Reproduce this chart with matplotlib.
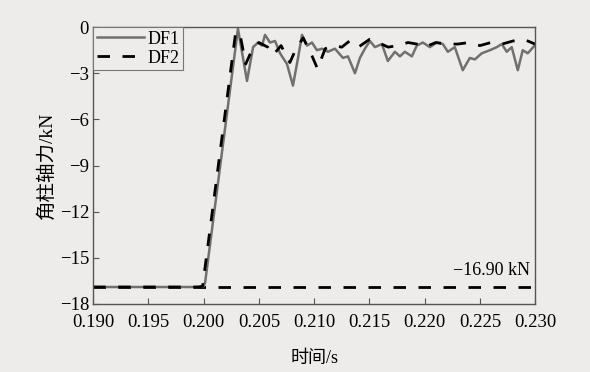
import matplotlib.pyplot as plt

plt.rcParams['font.family'] = ['Liberation Serif', 'Noto Sans CJK SC']
plt.rcParams['axes.unicode_minus'] = True

# DF1 (solid grey)
t1 = [0.1900, 0.1995, 0.2000, 0.20013, 0.2031, 0.20392, 0.20447, 0.20492, 0.20528,
      0.20555, 0.20600, 0.20646, 0.20691, 0.20754, 0.20808, 0.20854, 0.20890,
      0.20935, 0.20980, 0.21025, 0.21071, 0.21125, 0.21188, 0.21260, 0.21306,
      0.21369, 0.21414, 0.21459, 0.21505, 0.21550, 0.21613, 0.21667, 0.21731,
      0.21776, 0.21821, 0.21884, 0.21929, 0.21984, 0.22047, 0.22110, 0.22165,
      0.22210, 0.22273, 0.22345, 0.22409, 0.22454, 0.22517, 0.22590, 0.22653,
      0.22698, 0.22743, 0.22788, 0.22843, 0.22888, 0.22933, 0.22996]
f1 = [-16.9, -16.9, -16.85, -16.6, -0.1, -3.5, -1.3, -1.0, -1.2,
      -0.5, -1.0, -0.9, -1.7, -2.4, -3.8, -2.0, -0.5,
      -1.2, -1.0, -1.5, -1.4, -1.6, -1.4, -2.0, -1.9,
      -3.0, -2.0, -1.4, -0.9, -1.3, -1.1, -2.2, -1.6,
      -1.9, -1.6, -1.9, -1.2, -1.0, -1.3, -1.0, -1.1,
      -1.6, -1.3, -2.8, -2.0, -2.1, -1.7, -1.5, -1.3,
      -1.1, -1.6, -1.3, -2.8, -1.5, -1.7, -1.2]

# DF2 (black dashed)
t2 = [0.1900, 0.1995, 0.1999, 0.2029, 0.2033, 0.2038, 0.2043, 0.2050, 0.2058,
      0.2063, 0.2070, 0.2078, 0.2083, 0.2090, 0.2097, 0.2103, 0.2110, 0.2118,
      0.2125, 0.2132, 0.2140, 0.2150, 0.2158, 0.2167, 0.2175, 0.2185, 0.2193,
      0.2200, 0.2210, 0.2220, 0.2230, 0.2240, 0.2250, 0.2260, 0.2270, 0.2280,
      0.2290, 0.2300]
f2 = [-16.9, -16.9, -16.85, -0.3, -0.5, -2.4, -1.6, -1.0, -1.3,
      -1.8, -1.2, -2.3, -1.5, -0.7, -1.7, -2.7, -1.4, -1.2,
      -1.3, -0.9, -1.3, -0.8, -1.0, -1.3, -1.2, -1.0, -1.1,
      -1.3, -1.0, -1.1, -1.1, -1.0, -1.2, -1.0, -1.1, -0.9,
      -0.8, -1.1]

ref_val = -16.90
xticks = [0.190, 0.195, 0.200, 0.205, 0.210, 0.215, 0.220, 0.225, 0.230]
yticks = [0, -3, -6, -9, -12, -15, -18]

bg = '#eeecea'
fig = plt.figure(figsize=(5.9, 3.72), dpi=100, facecolor=bg)
ax = fig.add_axes([0.158, 0.183, 0.749, 0.744], facecolor=bg)

ax.axhline(ref_val, color='black', lw=2, dashes=(4.5, 4.5))
ax.plot(t1, f1, color='#707070', lw=1.8, label='DF1')
ax.plot(t2, f2, color='black', lw=2, dashes=(4.5, 4.5), label='DF2')

ax.text(0.2295, -15.8, '\u221216.90 kN', ha='right', va='center', fontsize=13)

ax.set_xlim(0.190, 0.230)
ax.set_ylim(-18, 0)
ax.set_xticks(xticks)
ax.set_xticklabels(['%.3f' % v for v in xticks])
ax.set_yticks(yticks)
ax.set_yticklabels(['%d' % v if v == 0 else '\u2212%d' % -v for v in yticks])
ax.tick_params(direction='in', labelsize=13.5, length=4, color='#555555')
ax.tick_params(axis='x', pad=7)
ax.tick_params(axis='y', pad=3)
for s in ax.spines.values():
    s.set_color('#555555')
    s.set_linewidth(1)

ax.set_xlabel('时间/s', fontsize=13, labelpad=14)
ax.set_ylabel('角柱轴力/kN', fontsize=14, labelpad=3)

leg = ax.legend(loc='upper left', borderaxespad=0, fancybox=False, fontsize=13,
                handlelength=2.6, handletextpad=0.2, borderpad=0.2,
                labelspacing=0.1, facecolor=bg, framealpha=1)
leg.get_frame().set_edgecolor('#777777')
leg.get_frame().set_linewidth(0.8)

fig.savefig('out.png', dpi=100, facecolor=bg)
